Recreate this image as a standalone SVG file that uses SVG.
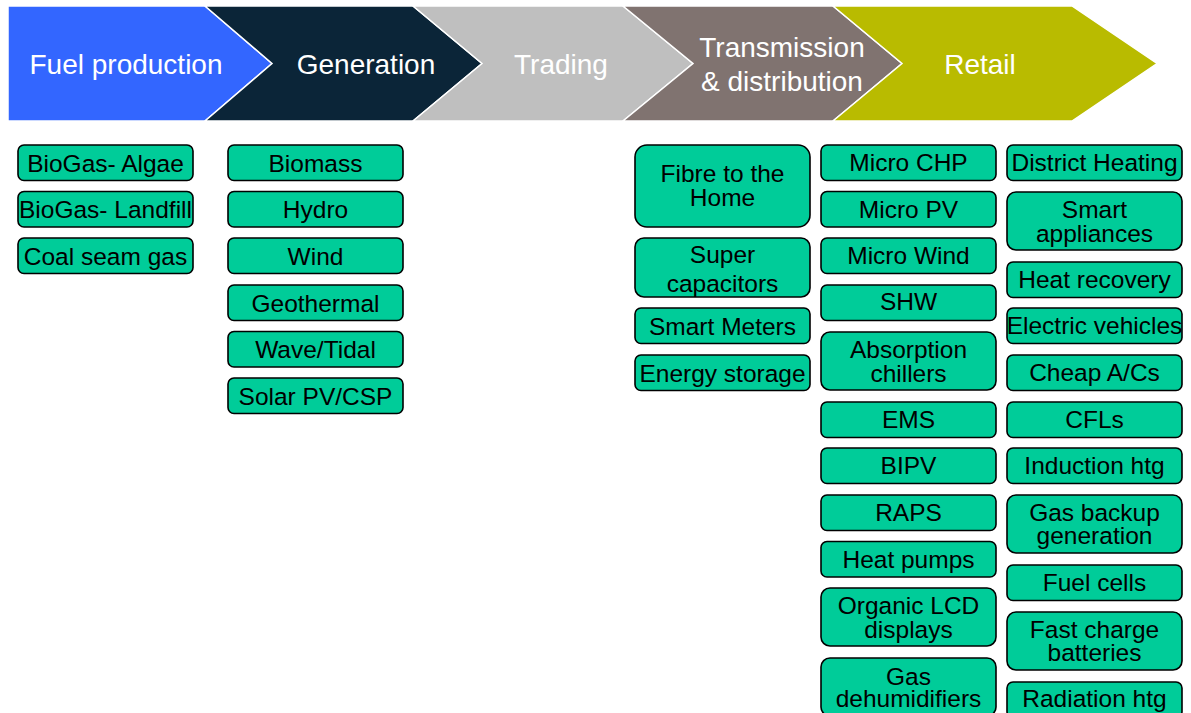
<svg xmlns="http://www.w3.org/2000/svg" width="1191" height="713" viewBox="0 0 1191 713">
  <style>
    .stage { stroke: #ffffff; stroke-width: 1.5; stroke-linejoin: miter; }
    .stage-label { font-family: "Liberation Sans", Arial, sans-serif; font-size: 28px; fill: #ffffff; text-anchor: middle; }
    .tech rect { fill: #00cc99; stroke: #000000; stroke-width: 1.6; }
    .tech text { font-family: "Liberation Sans", Arial, sans-serif; font-size: 24.5px; fill: #000000; text-anchor: middle; }
  </style>
  <rect width="1191" height="713" fill="#ffffff"/>

  <!-- Value-chain header: five chevrons -->
  <g id="stage-fuel">
    <polygon class="stage" fill="#3366ff" points="8,6 205,6 272,63.5 205,121 8,121"/>
    <text class="stage-label" x="126" y="74">Fuel production</text>
  </g>
  <g id="stage-generation">
    <polygon class="stage" fill="#0b2538" points="205,6 413,6 482,63.5 413,121 205,121 272,63.5"/>
    <text class="stage-label" x="366" y="74">Generation</text>
  </g>
  <g id="stage-trading">
    <polygon class="stage" fill="#bfbfbf" points="413,6 623,6 693,63.5 623,121 413,121 482,63.5"/>
    <text class="stage-label" x="561" y="74">Trading</text>
  </g>
  <g id="stage-td">
    <polygon class="stage" fill="#807370" points="623,6 833,6 902,63.5 833,121 623,121 693,63.5"/>
    <text class="stage-label" x="782" y="57"><tspan x="782">Transmission</tspan><tspan x="782" dy="34">&amp; distribution</tspan></text>
  </g>
  <g id="stage-retail">
    <polygon class="stage" fill="#b9bb00" points="833,6 1072,6 1157,63.5 1072,121 833,121 902,63.5"/>
    <text class="stage-label" x="980" y="74">Retail</text>
  </g>

  <!-- Fuel production technologies -->
  <g id="fuel-algae" class="tech"><rect x="18" y="145" width="175" height="35.5" rx="6"/><text x="105.5" y="171.5">BioGas- Algae</text></g>
  <g id="fuel-landfill" class="tech"><rect x="18" y="191.5" width="175" height="35.5" rx="6"/><text x="105.5" y="218">BioGas- Landfill</text></g>
  <g id="fuel-csg" class="tech"><rect x="18" y="238" width="175" height="35.5" rx="6"/><text x="105.5" y="264.5">Coal seam gas</text></g>

  <!-- Generation technologies -->
  <g id="gen-biomass" class="tech"><rect x="228" y="145" width="175" height="35.5" rx="6"/><text x="315.5" y="171.5">Biomass</text></g>
  <g id="gen-hydro" class="tech"><rect x="228" y="191.5" width="175" height="35.5" rx="6"/><text x="315.5" y="218">Hydro</text></g>
  <g id="gen-wind" class="tech"><rect x="228" y="238" width="175" height="35.5" rx="6"/><text x="315.5" y="264.5">Wind</text></g>
  <g id="gen-geothermal" class="tech"><rect x="228" y="285" width="175" height="35.5" rx="6"/><text x="315.5" y="311.5">Geothermal</text></g>
  <g id="gen-wave" class="tech"><rect x="228" y="331.5" width="175" height="35.5" rx="6"/><text x="315.5" y="358">Wave/Tidal</text></g>
  <g id="gen-solar" class="tech"><rect x="228" y="378" width="175" height="35.5" rx="6"/><text x="315.5" y="404.5">Solar PV/CSP</text></g>

  <!-- Transmission & distribution technologies -->
  <g id="td-fibre" class="tech"><rect x="635" y="145" width="175" height="82" rx="12"/><text x="722.5" y="181.5"><tspan x="722.5">Fibre to the</tspan><tspan x="722.5" dy="24">Home</tspan></text></g>
  <g id="td-supercap" class="tech"><rect x="635" y="238" width="175" height="59" rx="9"/><text x="722.5" y="262.5"><tspan x="722.5">Super</tspan><tspan x="722.5" dy="29">capacitors</tspan></text></g>
  <g id="td-meters" class="tech"><rect x="635" y="308" width="175" height="35.5" rx="6"/><text x="722.5" y="334.5">Smart Meters</text></g>
  <g id="td-storage" class="tech"><rect x="635" y="355" width="175" height="35.5" rx="6"/><text x="722.5" y="381.5">Energy storage</text></g>

  <!-- Retail technologies, first column -->
  <g id="rt-microchp" class="tech"><rect x="821" y="145" width="175" height="35.5" rx="6"/><text x="908.5" y="171">Micro CHP</text></g>
  <g id="rt-micropv" class="tech"><rect x="821" y="191.5" width="175" height="35.5" rx="6"/><text x="908.5" y="217.5">Micro PV</text></g>
  <g id="rt-microwind" class="tech"><rect x="821" y="238" width="175" height="35.5" rx="6"/><text x="908.5" y="264">Micro Wind</text></g>
  <g id="rt-shw" class="tech"><rect x="821" y="285" width="175" height="35.5" rx="6"/><text x="908.5" y="310">SHW</text></g>
  <g id="rt-absorption" class="tech"><rect x="821" y="332" width="175" height="58" rx="9"/><text x="908.5" y="357.5"><tspan x="908.5">Absorption</tspan><tspan x="908.5" dy="24">chillers</tspan></text></g>
  <g id="rt-ems" class="tech"><rect x="821" y="402" width="175" height="35.5" rx="6"/><text x="908.5" y="428">EMS</text></g>
  <g id="rt-bipv" class="tech"><rect x="821" y="448" width="175" height="35.5" rx="6"/><text x="908.5" y="474">BIPV</text></g>
  <g id="rt-raps" class="tech"><rect x="821" y="495" width="175" height="35.5" rx="6"/><text x="908.5" y="520.5">RAPS</text></g>
  <g id="rt-heatpumps" class="tech"><rect x="821" y="541.5" width="175" height="35.5" rx="6"/><text x="908.5" y="567.5">Heat pumps</text></g>
  <g id="rt-oled" class="tech"><rect x="821" y="588" width="175" height="58" rx="9"/><text x="908.5" y="613.5"><tspan x="908.5">Organic LCD</tspan><tspan x="908.5" dy="24">displays</tspan></text></g>
  <g id="rt-dehumid" class="tech"><rect x="821" y="658" width="175" height="58" rx="9"/><text x="908.5" y="684.5"><tspan x="908.5">Gas</tspan><tspan x="908.5" dy="22">dehumidifiers</tspan></text></g>

  <!-- Retail technologies, second column -->
  <g id="rt-district" class="tech"><rect x="1007" y="145" width="175" height="35.5" rx="6"/><text x="1094.5" y="171">District Heating</text></g>
  <g id="rt-appliances" class="tech"><rect x="1007" y="192" width="175" height="58" rx="9"/><text x="1094.5" y="217.5"><tspan x="1094.5">Smart</tspan><tspan x="1094.5" dy="24">appliances</tspan></text></g>
  <g id="rt-heatrecovery" class="tech"><rect x="1007" y="262" width="175" height="35.5" rx="6"/><text x="1094.5" y="288">Heat recovery</text></g>
  <g id="rt-ev" class="tech"><rect x="1007" y="308" width="175" height="35.5" rx="6"/><text x="1094.5" y="334">Electric vehicles</text></g>
  <g id="rt-ac" class="tech"><rect x="1007" y="355" width="175" height="35.5" rx="6"/><text x="1094.5" y="381">Cheap A/Cs</text></g>
  <g id="rt-cfl" class="tech"><rect x="1007" y="402" width="175" height="35.5" rx="6"/><text x="1094.5" y="428">CFLs</text></g>
  <g id="rt-induction" class="tech"><rect x="1007" y="448" width="175" height="35.5" rx="6"/><text x="1094.5" y="474">Induction htg</text></g>
  <g id="rt-gasbackup" class="tech"><rect x="1007" y="495" width="175" height="58" rx="9"/><text x="1094.5" y="520.5"><tspan x="1094.5">Gas backup</tspan><tspan x="1094.5" dy="23.5">generation</tspan></text></g>
  <g id="rt-fuelcells" class="tech"><rect x="1007" y="565" width="175" height="35.5" rx="6"/><text x="1094.5" y="590.5">Fuel cells</text></g>
  <g id="rt-fastcharge" class="tech"><rect x="1007" y="612" width="175" height="58" rx="9"/><text x="1094.5" y="637.5"><tspan x="1094.5">Fast charge</tspan><tspan x="1094.5" dy="23.5">batteries</tspan></text></g>
  <g id="rt-radiation" class="tech"><rect x="1007" y="682" width="175" height="35.5" rx="6"/><text x="1094.5" y="706.5">Radiation htg</text></g>

  <!-- No connectors in this chart -->
  <g id="connectors"/>
</svg>
